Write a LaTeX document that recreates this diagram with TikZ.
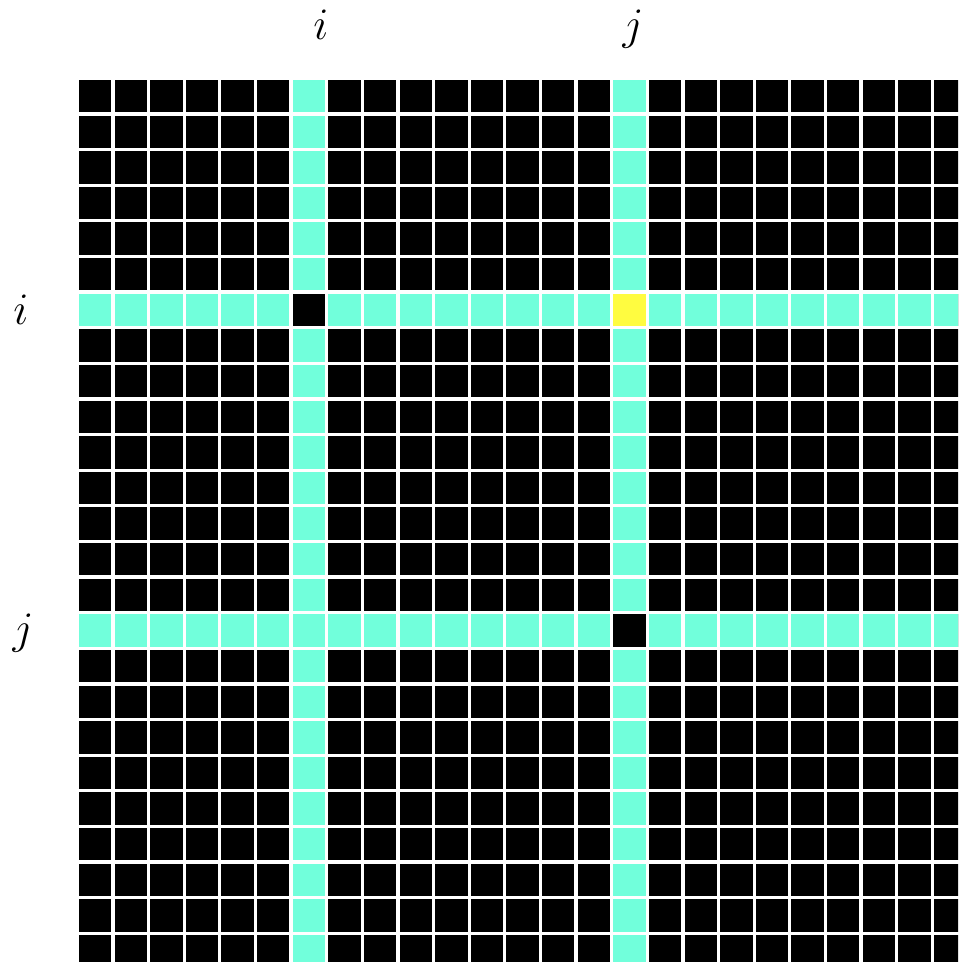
\documentclass[tikz,border=0pt]{standalone}
\usepackage{tikz}
\definecolor{bandCyan}{RGB}{113,255,219}
\definecolor{pickYellow}{RGB}{255,252,64}

\begin{document}
\begin{tikzpicture}[
          cell/.style={fill=black},
          hot/.style={fill=bandCyan},
          pick/.style={fill=pickYellow},
          idx/.style={anchor=base, inner sep=0pt, font=\Huge, scale=1.447}
        ]
          \useasboundingbox (-2.218,2.246) rectangle (24.678,-24.76);
          \clip (-2.218,2.246) rectangle (24.678,-24.76);
          % black grid
          \foreach \r in {0,...,24}
            \foreach \c in {0,...,24}
              \fill[cell] (\c,-\r) rectangle ++(0.907,-0.907);
          % the two highlighted rows and columns
          \foreach \k in {0,...,24}
            \foreach \m in {6,15} {
              \fill[hot] (\k,-\m) rectangle ++(0.907,-0.907);
              \fill[hot] (\m,-\k) rectangle ++(0.907,-0.907);
            }
          \fill[cell] (6,-6) rectangle ++(0.907,-0.907);
          \fill[cell] (15,-15) rectangle ++(0.907,-0.907);
          \fill[pick] (15,-6) rectangle ++(0.907,-0.907);
          % labels
          \node[idx] (topi) at (6.79,1.123) {$i$};
          \node[idx] (topj) at (15.55,1.123) {$j$};
          \node[idx] (lefti) at (-1.63,-6.85) {$i$};
          \node[idx] (leftj) at (-1.57,-15.81) {$j$};
        \end{tikzpicture}
\end{document}
